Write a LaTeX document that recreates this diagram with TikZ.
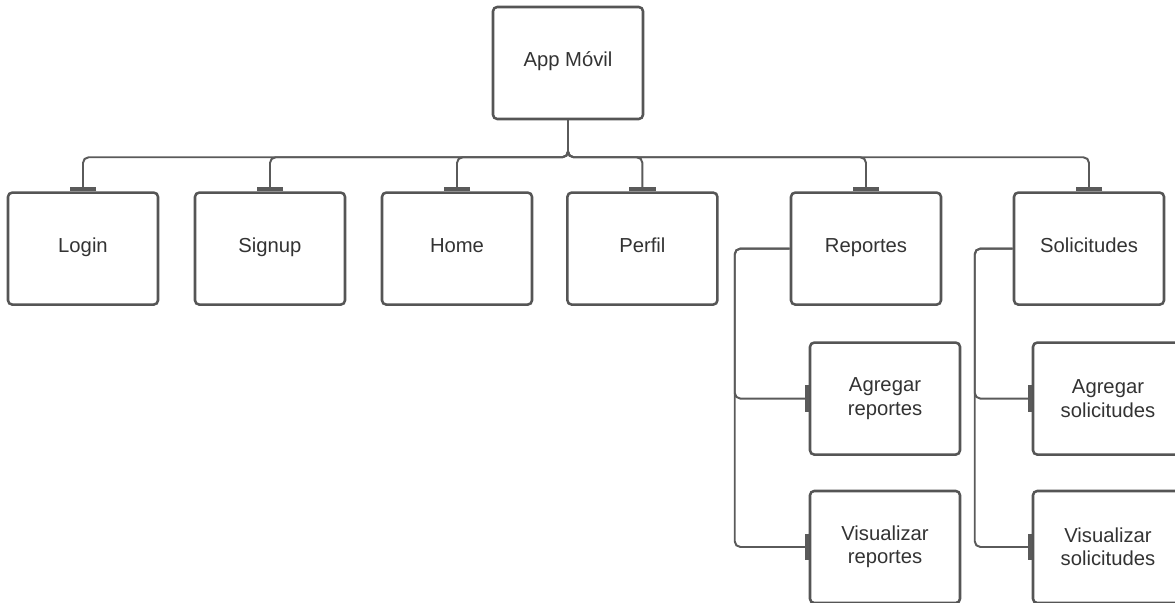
\documentclass[tikz,border=0pt]{standalone}
\usepackage{fontspec}
\setmainfont{Liberation Sans}
\usetikzlibrary{arrows.meta, positioning, calc}

\definecolor{lnk}{HTML}{5A5A5A}
\definecolor{brd}{HTML}{555555}
\definecolor{txt}{HTML}{333333}

\begin{document}
\begin{tikzpicture}[
  mbox/.style={rectangle, rounded corners=3pt, fill=white, draw=brd, line width=1.8pt,
               minimum width=3.75cm, minimum height=2.8cm, align=center,
               text=txt, font=\fontsize{14.4pt}{16.5pt}\selectfont},
  sbox/.style={mbox, text height=0.75em, text depth=0.2em},
  conn/.style={draw=lnk, line width=1.4pt, rounded corners=4pt,
               -{Bar[width=19pt, line width=3pt]}}
]

%% marco (1175 x 603 px, 1px = 0.025cm)
\useasboundingbox (0,0) rectangle (29.375,15.075);

%% raiz
\node[sbox] (app) at (14.2, 13.5) {App Móvil};

%% primer nivel
\node[sbox] (login) at (2.075,  8.86) {Login};
\node[sbox] (sign)  at (6.75,   8.86) {Signup};
\node[sbox] (home)  at (11.425, 8.86) {Home};
\node[sbox] (perf)  at (16.06,  8.86) {Perfil};
\node[sbox] (rep)   at (21.65,  8.86) {Reportes};
\node[sbox] (sol)   at (27.225, 8.86) {Solicitudes};

%% segundo nivel
\node[mbox] (agrep) at (22.125, 5.11) {Agregar\\reportes};
\node[mbox] (visrep) at (22.125, 1.4) {Visualizar\\reportes};
\node[mbox] (agsol) at (27.7, 5.11) {Agregar\\solicitudes};
\node[mbox] (vissol) at (27.7, 1.4) {Visualizar\\solicitudes};

%% conectores desde la raiz
\foreach \n in {login, sign, home, perf, rep, sol}
  \draw[conn] (app.south) -- ++(0,-0.925) -| (\n.north);

%% conectores del segundo nivel
\draw[conn] (rep.west) -- ++(-1.375,0) |- (agrep.west);
\draw[conn] (rep.west) -- ++(-1.375,0) |- (visrep.west);
\draw[conn] (sol.west) -- ++(-0.95,0) |- (agsol.west);
\draw[conn] (sol.west) -- ++(-0.95,0) |- (vissol.west);

\end{tikzpicture}
\end{document}
